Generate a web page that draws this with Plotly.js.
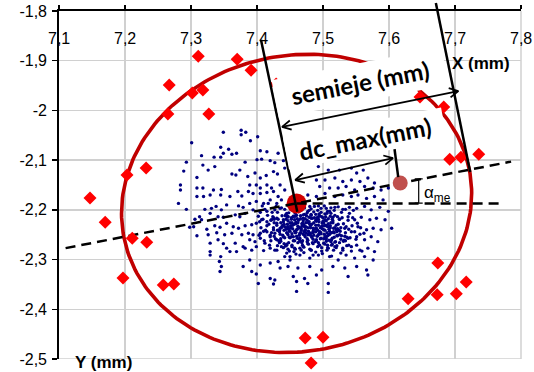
<!DOCTYPE html>
<html><head><meta charset="utf-8">
<script src="https://cdn.plot.ly/plotly-3.0.1.min.js"></script>
<style>html,body{margin:0;padding:0;background:#fff;}#chart{width:534px;height:372px;}</style>
</head><body><div id="chart"></div>
<script>
// ---- tick labels ----
const xTickVals = [7.1, 7.2, 7.3, 7.4, 7.5, 7.6, 7.7, 7.8];
const xTickText = ['7,1', '7,2', '7,3', '7,4', '7,5', '7,6', '7,7', '7,8'];
const yTickVals = [-1.8, -1.9, -2.0, -2.1, -2.2, -2.3, -2.4, -2.5];
const yTickText = ['-1,8', '-1,9', '-2', '-2,1', '-2,2', '-2,3', '-2,4', '-2,5'];

// ---- blue measurement cloud ----
const cloudX = [
7.349,7.376,7.383,7.376,7.390,7.401,7.301,7.345,7.357,7.349,7.362,7.369,7.316,7.335,7.345,7.405,7.415,7.432,7.293,7.318,
7.382,7.400,7.407,7.420,7.427,7.440,7.336,7.326,7.289,7.309,7.362,7.368,7.374,7.386,7.397,7.405,7.414,7.425,7.431,7.442,
7.284,7.284,7.309,7.318,7.334,7.346,7.371,7.389,7.399,7.405,7.415,7.422,7.435,7.309,7.319,7.329,7.345,7.359,7.377,7.387,
7.394,7.405,7.415,7.425,7.432,7.442,7.281,7.293,7.321,7.331,7.338,7.346,7.354,7.372,7.379,7.389,7.399,7.410,7.420,7.430,
7.437,7.306,7.313,7.316,7.329,7.341,7.349,7.354,7.367,7.374,7.382,7.394,7.405,7.415,7.427,7.435,7.445,7.298,7.304,7.324,
7.336,7.344,7.364,7.372,7.382,7.392,7.399,7.407,7.415,7.422,7.430,7.440,7.447,7.309,7.326,7.339,7.351,7.362,7.377,7.387,
7.394,7.405,7.415,7.425,7.435,7.442,7.329,7.341,7.349,7.354,7.367,7.379,7.389,7.397,7.405,7.412,7.420,7.430,7.440,7.447,
7.329,7.329,7.345,7.359,7.369,7.382,7.392,7.399,7.410,7.420,7.430,7.437,7.445,7.343,7.346,7.379,7.389,7.405,7.420,7.432,
7.442,7.450,7.344,7.392,7.399,7.420,7.427,7.402,7.425,7.435,
7.493,7.508,7.525,7.543,7.551,7.561,7.490,7.503,7.518,7.530,7.543,7.556,7.568,7.578,7.495,7.510,7.523,7.535,7.548,7.563,
7.576,7.588,7.599,7.477,7.490,7.503,7.518,7.530,7.543,7.553,7.566,7.578,7.591,7.452,7.467,7.480,7.493,7.505,7.518,7.530,
7.540,7.551,7.563,7.573,7.586,7.599,7.447,7.457,7.470,7.482,7.493,7.503,7.515,7.525,7.538,7.548,7.558,7.571,7.581,7.594,
7.604,7.447,7.460,7.472,7.485,7.495,7.508,7.520,7.533,7.543,7.553,7.566,7.576,7.588,7.452,7.465,7.477,7.490,7.503,7.513,
7.525,7.538,7.551,7.563,7.573,7.583,7.445,7.457,7.470,7.482,7.495,7.508,7.518,7.530,7.543,7.556,7.568,7.578,7.450,7.465,
7.480,7.493,7.510,7.523,7.535,7.548,7.563,7.576,7.447,7.462,7.480,7.498,7.515,7.533,7.551,7.566,7.455,7.472,7.490,7.538,
7.568,7.460,7.508,7.477,7.460,7.508,
7.431,7.436,7.441,7.444,7.448,7.451,7.453,7.455,7.457,7.459,7.461,7.463,7.464,7.466,7.468,7.469,7.471,7.472,7.474,7.476,
7.477,7.479,7.481,7.483,7.484,7.486,7.488,7.489,7.491,7.493,7.495,7.496,7.498,7.499,7.501,7.503,7.505,7.506,7.508,7.510,
7.512,7.514,7.516,7.518,7.521,7.523,7.526,7.529,7.532,7.535,
7.427,7.433,7.438,7.443,7.446,7.449,7.452,7.454,7.456,7.458,7.460,7.462,7.465,7.467,7.470,7.473,7.475,7.478,7.480,7.482,
7.485,7.487,7.490,7.492,7.494,7.497,7.500,7.502,7.504,7.507,7.509,7.511,7.513,7.515,7.519,7.522,7.525,7.528,7.531,7.534,
7.538,7.541,7.544,7.548,7.552,7.556,
7.439,7.445,7.450,7.455,7.461,7.466,7.471,7.476,7.481,7.486,7.491,7.496,7.501,7.506,7.511,7.517,7.522,7.527,7.533,7.539,
7.545,7.550,7.557,7.562,
7.421,7.425,7.429,7.434,7.437,7.442,7.447,7.452,7.457,7.462,7.467,7.472,7.477,7.482,7.487,7.492,7.497,7.502,7.507,7.512,
7.517,7.523,7.528,7.534,7.540,7.546,
7.441,7.447,7.453,7.459,7.465,7.471,7.478,7.485,7.492,7.499,7.506,7.513,7.520,7.527,7.536,7.543,7.551,7.559,
7.402,7.406,7.409,7.413,7.416,7.418,7.422,7.424,7.426,7.428,7.430,7.432,7.435,7.437,7.440,7.442,7.444,7.446,7.448,7.450,
7.403,7.411,7.419,7.427,7.434,7.412,7.423,7.417,7.408,7.439,
7.444,7.447,7.452,7.456,7.458,7.463,7.466,7.469,7.473,7.476,7.479,7.482,7.486,7.489,7.493,7.497,7.500,7.504,7.508,7.512,
7.445,7.449,7.454,7.459,7.462,7.467,7.470,7.474,7.478,7.481,7.485,7.490,7.494,7.498,7.503,7.507,7.511,7.516,7.520,7.524,
7.450,7.455,7.460,7.464,7.468,7.472,7.477,7.483,7.488,7.492,7.496,7.501,7.505,7.509,7.514,7.518,7.522,7.527,7.531,7.536,
7.425,7.430,7.434,7.438,7.443,7.448,7.453,7.458,7.463,7.468,7.473,7.479,7.484,7.489,7.494,7.499,7.505,7.510,7.515,7.521,
7.404,7.410,7.415,7.420,7.426,7.431,7.436,7.441,7.446,7.451,
7.455,7.459,7.462,7.466,7.470,7.474,7.478,7.482,7.486,7.490,7.494,7.498,7.502,7.506,7.510,7.514,7.518,7.457,7.461,7.465,
7.469,7.473,7.477,7.481,7.485,7.489,7.493,7.497,7.501,7.505,7.509,7.513,7.517,7.421,7.426,7.431,7.436,7.440,7.445,7.449,
7.453,7.458,7.462,7.467,7.471,7.476,7.480,7.485,7.489,7.494,7.498,7.503,7.507,7.512,7.516,7.521,7.525,7.530,7.534,7.539
];
const cloudY = [
-2.044,-2.040,-2.044,-2.049,-2.061,-2.053,-2.065,-2.074,-2.078,-2.086,-2.088,-2.086,-2.091,-2.094,-2.094,-2.081,-2.083,-2.086,-2.104,-2.110,
-2.104,-2.099,-2.098,-2.101,-2.105,-2.101,-2.113,-2.120,-2.122,-2.135,-2.128,-2.130,-2.120,-2.133,-2.126,-2.136,-2.131,-2.123,-2.128,-2.116,
-2.150,-2.160,-2.156,-2.156,-2.160,-2.159,-2.163,-2.150,-2.150,-2.156,-2.150,-2.156,-2.150,-2.173,-2.173,-2.170,-2.170,-2.173,-2.172,-2.163,
-2.167,-2.167,-2.165,-2.163,-2.173,-2.160,-2.187,-2.199,-2.199,-2.197,-2.193,-2.200,-2.190,-2.192,-2.195,-2.187,-2.183,-2.187,-2.180,-2.187,
-2.180,-2.219,-2.214,-2.220,-2.207,-2.214,-2.215,-2.227,-2.210,-2.214,-2.207,-2.200,-2.205,-2.203,-2.200,-2.197,-2.207,-2.235,-2.234,-2.239,
-2.232,-2.235,-2.234,-2.237,-2.232,-2.230,-2.227,-2.220,-2.224,-2.220,-2.217,-2.220,-2.214,-2.252,-2.250,-2.246,-2.250,-2.247,-2.250,-2.247,
-2.250,-2.247,-2.244,-2.240,-2.237,-2.234,-2.267,-2.260,-2.268,-2.277,-2.267,-2.274,-2.260,-2.264,-2.257,-2.267,-2.254,-2.260,-2.254,-2.250,
-2.284,-2.291,-2.294,-2.284,-2.284,-2.277,-2.281,-2.274,-2.282,-2.277,-2.281,-2.274,-2.287,-2.304,-2.314,-2.314,-2.301,-2.311,-2.307,-2.304,
-2.294,-2.301,-2.324,-2.324,-2.329,-2.338,-2.341,-2.348,-2.349,-2.317,
-2.113,-2.120,-2.120,-2.116,-2.126,-2.120,-2.140,-2.140,-2.136,-2.143,-2.140,-2.143,-2.136,-2.146,-2.153,-2.156,-2.156,-2.153,-2.160,-2.153,
-2.156,-2.160,-2.156,-2.170,-2.173,-2.167,-2.173,-2.170,-2.173,-2.170,-2.177,-2.173,-2.180,-2.200,-2.197,-2.193,-2.192,-2.197,-2.195,-2.199,
-2.195,-2.197,-2.193,-2.200,-2.195,-2.203,-2.214,-2.220,-2.210,-2.217,-2.214,-2.220,-2.215,-2.219,-2.214,-2.220,-2.215,-2.220,-2.217,-2.220,
-2.237,-2.234,-2.240,-2.234,-2.237,-2.244,-2.234,-2.240,-2.237,-2.244,-2.234,-2.240,-2.237,-2.240,-2.254,-2.257,-2.250,-2.260,-2.254,-2.260,
-2.250,-2.257,-2.254,-2.260,-2.254,-2.264,-2.271,-2.277,-2.274,-2.281,-2.271,-2.277,-2.274,-2.281,-2.274,-2.281,-2.277,-2.284,-2.294,-2.291,
-2.297,-2.291,-2.294,-2.301,-2.291,-2.297,-2.294,-2.301,-2.314,-2.317,-2.314,-2.321,-2.314,-2.317,-2.314,-2.321,-2.334,-2.338,-2.331,-2.334,
-2.331,-2.344,-2.348,-2.348,-2.364,-2.366,
-2.205,-2.226,-2.241,-2.219,-2.206,-2.232,-2.248,-2.213,-2.262,-2.225,-2.239,-2.204,-2.251,-2.218,-2.233,-2.271,-2.244,-2.209,-2.226,-2.258,
-2.236,-2.215,-2.247,-2.229,-2.266,-2.204,-2.238,-2.221,-2.253,-2.231,-2.212,-2.245,-2.276,-2.227,-2.240,-2.208,-2.258,-2.233,-2.218,-2.249,
-2.226,-2.269,-2.237,-2.211,-2.252,-2.229,-2.243,-2.216,-2.261,-2.234,
-2.247,-2.262,-2.212,-2.273,-2.229,-2.255,-2.219,-2.238,-2.284,-2.246,-2.211,-2.226,-2.263,-2.241,-2.222,-2.254,-2.212,-2.248,-2.229,-2.281,
-2.243,-2.216,-2.262,-2.241,-2.224,-2.257,-2.216,-2.249,-2.231,-2.271,-2.239,-2.213,-2.246,-2.222,-2.264,-2.238,-2.219,-2.252,-2.228,-2.246,
-2.221,-2.256,-2.232,-2.244,-2.227,-2.249,
-2.231,-2.246,-2.226,-2.254,-2.218,-2.246,-2.230,-2.221,-2.236,-2.251,-2.216,-2.236,-2.226,-2.246,-2.232,-2.255,-2.214,-2.236,-2.253,-2.239,
-2.216,-2.259,-2.236,-2.247,
-2.221,-2.236,-2.193,-2.241,-2.196,-2.199,-2.191,-2.197,-2.192,-2.197,-2.201,-2.196,-2.203,-2.198,-2.193,-2.201,-2.197,-2.192,-2.203,-2.196,
-2.201,-2.194,-2.205,-2.199,-2.207,-2.201,
-2.268,-2.279,-2.271,-2.289,-2.277,-2.286,-2.269,-2.291,-2.274,-2.288,-2.281,-2.293,-2.276,-2.287,-2.272,-2.283,-2.271,-2.283,
-2.213,-2.236,-2.219,-2.241,-2.211,-2.229,-2.246,-2.214,-2.226,-2.258,-2.231,-2.219,-2.249,-2.236,-2.224,-2.256,-2.239,-2.214,-2.266,-2.243,
-2.251,-2.262,-2.271,-2.281,-2.266,-2.199,-2.205,-2.187,-2.192,-2.251,
-2.209,-2.222,-2.216,-2.229,-2.207,-2.221,-2.212,-2.227,-2.218,-2.206,-2.224,-2.211,-2.226,-2.209,-2.219,-2.205,-2.223,-2.214,-2.228,-2.207,
-2.236,-2.242,-2.231,-2.245,-2.233,-2.238,-2.249,-2.234,-2.243,-2.232,-2.246,-2.237,-2.248,-2.233,-2.241,-2.252,-2.236,-2.244,-2.231,-2.241,
-2.256,-2.262,-2.253,-2.259,-2.266,-2.251,-2.261,-2.255,-2.264,-2.252,-2.258,-2.267,-2.254,-2.261,-2.257,-2.265,-2.252,-2.259,-2.263,-2.255,
-2.216,-2.227,-2.244,-2.233,-2.212,-2.239,-2.226,-2.213,-2.235,-2.228,-2.241,-2.201,-2.217,-2.231,-2.208,-2.238,-2.222,-2.203,-2.226,-2.244,
-2.224,-2.243,-2.232,-2.251,-2.219,-2.241,-2.258,-2.229,-2.247,-2.236,
-2.214,-2.228,-2.203,-2.237,-2.217,-2.246,-2.226,-2.209,-2.239,-2.223,-2.249,-2.214,-2.232,-2.207,-2.243,-2.219,-2.236,-2.243,-2.257,-2.247,
-2.262,-2.240,-2.268,-2.251,-2.259,-2.244,-2.266,-2.248,-2.258,-2.263,-2.250,-2.271,-2.246,-2.262,-2.253,-2.272,-2.263,-2.276,-2.269,-2.283,
-2.274,-2.279,-2.266,-2.281,-2.275,-2.264,-2.279,-2.268,-2.285,-2.271,-2.283,-2.269,-2.276,-2.264,-2.281,-2.272,-2.266,-2.277,-2.262,-2.271
];

// ---- red diamonds ----
const diamondX = [7.311,7.370,7.391,7.267,7.302,7.318,7.265,7.327,7.232,7.203,7.147,7.170,7.211,7.233,7.197,7.258,
                  7.274,7.674,7.717,7.673,7.702,7.629,7.473,7.500,7.482,7.647,7.683,7.692,7.709,7.736,7.429];
const diamondY = [-1.891,-1.897,-1.919,-1.949,-1.965,-1.959,-2.007,-2.007,-2.116,-2.130,-2.176,-2.225,-2.257,-2.265,-2.337,-2.351,
                  -2.349,-2.307,-2.345,-2.371,-2.369,-2.379,-2.458,-2.456,-2.508,-1.973,-1.993,-2.098,-2.094,-2.088,-1.947];

// ---- centre and dc_max point ----
const centerX = [7.460], centerY = [-2.187];
const dcPointX = [7.617], dcPointY = [-2.146];

// ---- ellipse parameters (centre, semi-major and semi-minor vectors in data units) ----
const ellipseCenter = [7.460, -2.187];
const ellipseMajor = [0.2618, 0.0674];
const ellipseMinor = [-0.0427, 0.2923];

// ---- dashed guide lines ----
const axisLineX = [7.110, 7.785], axisLineY = [-2.277, -2.103];
const horizLineX = [7.460, 7.771], horizLineY = [-2.187, -2.187];

// ---- black construction lines / arrows: [x0, y0, x1, y1] ----
const leftLine = [7.406, -1.858, 7.461, -2.204];
const rightLine = [7.671, -1.784, 7.723, -2.124];
const semiejeArrow = [7.438, -2.033, 7.705, -1.961];
const dcMaxArrow = [7.458, -2.140, 7.606, -2.096];
const dcTick = [7.608, -2.074, 7.614, -2.134];
const alphaBarX = [7.645], alphaBarY = [-2.162], alphaBarHalf = [0.0245];

// build ellipse outline from its parameters
const ellipseX = [], ellipseY = [];
for (let i = 0; i <= 240; i++) {
  const t = 2 * Math.PI * i / 240;
  ellipseX.push(ellipseCenter[0] + ellipseMajor[0] * Math.cos(t) + ellipseMinor[0] * Math.sin(t));
  ellipseY.push(ellipseCenter[1] + ellipseMajor[1] * Math.cos(t) + ellipseMinor[1] * Math.sin(t));
}

function segTrace(s, w) {
  return {x: [s[0], s[2]], y: [s[1], s[3]], xaxis: 'x2', yaxis: 'y2', type: 'scatter', mode: 'lines',
          line: {color: '#000', width: w}, hoverinfo: 'skip'};
}

// double-headed arrow: shaft plus an open "V" head at each end (head size in screen pixels)
const pxPerUnitX = 462 / 0.7, pxPerUnitY = 348 / 0.7;
function arrowTraces(s) {
  const out = [segTrace(s, 1.8)];
  const ends = [[s[2], s[3], s[0], s[1]], [s[0], s[1], s[2], s[3]]];
  ends.forEach(function (e) {
    let dx = (e[0] - e[2]) * pxPerUnitX, dy = (e[1] - e[3]) * pxPerUnitY;
    const n = Math.hypot(dx, dy); dx /= n; dy /= n;
    const L = 10, th = 28 * Math.PI / 180;
    const wing = function (sg) {
      const c = Math.cos(th), sn = Math.sin(sg * th), bx = -dx, by = -dy;
      return [e[0] + L * (bx * c - by * sn) / pxPerUnitX, e[1] + L * (bx * sn + by * c) / pxPerUnitY];
    };
    const w1 = wing(1), w2 = wing(-1);
    out.push({x: [w1[0], e[0], w2[0]], y: [w1[1], e[1], w2[1]], xaxis: 'x2', yaxis: 'y2', type: 'scatter',
              mode: 'lines', line: {color: '#000', width: 1.8}, hoverinfo: 'skip'});
  });
  return out;
}

const traces = [
  {x: cloudX, y: cloudY, type: 'scatter', mode: 'markers', marker: {color: '#000080', size: 3.4}, hoverinfo: 'skip'},
  {x: ellipseX, y: ellipseY, type: 'scatter', mode: 'lines', line: {color: '#c00000', width: 3.6}, hoverinfo: 'skip'},
  {x: centerX, y: centerY, type: 'scatter', mode: 'markers', marker: {color: '#d00000', size: 20}, hoverinfo: 'skip'},
  {x: axisLineX, y: axisLineY, type: 'scatter', mode: 'lines', line: {color: '#000', width: 2.5, dash: '10px,6px'}, hoverinfo: 'skip'},
  {x: horizLineX, y: horizLineY, type: 'scatter', mode: 'lines', line: {color: '#000', width: 2.5, dash: '10px,6px'}, hoverinfo: 'skip'},
  {x: dcPointX, y: dcPointY, type: 'scatter', mode: 'markers', marker: {color: '#c0504d', size: 15}, hoverinfo: 'skip'},
  {x: alphaBarX, y: alphaBarY, type: 'scatter', mode: 'markers', marker: {opacity: 0},
   error_y: {type: 'data', array: alphaBarHalf, visible: true, color: '#000', thickness: 1.2, width: 4}, hoverinfo: 'skip'},
  // overlay subplot with the same scale, extended to the whole canvas height
  {x: diamondX, y: diamondY, xaxis: 'x2', yaxis: 'y2', type: 'scatter', mode: 'markers',
   marker: {color: '#ff0000', symbol: 'diamond', size: 10}, hoverinfo: 'skip'},
  segTrace(leftLine, 2.5),
  segTrace(rightLine, 2.5),
  segTrace(dcTick, 2.5)
].concat(arrowTraces(semiejeArrow), arrowTraces(dcMaxArrow));

const annotations = [
  {x: 7.556, y: -1.943, xref: 'x', yref: 'y', text: '<b>semieje (mm)</b>', showarrow: false, textangle: -11,
   font: {family: 'Lato', size: 24, color: '#000'}, bgcolor: '#ffffff', width: 172, height: 37, borderpad: 0},
  {x: 7.564, y: -2.056, xref: 'x', yref: 'y', text: '<b>dc_max(mm)</b>', showarrow: false, textangle: -11,
   font: {family: 'Lato', size: 24, color: '#000'}, bgcolor: '#ffffff', width: 160, height: 31, borderpad: 0},
  {x: 7.739, y: -1.905, xref: 'x', yref: 'y', text: '<b>X (mm)</b>', showarrow: false,
   font: {family: 'Liberation Sans', size: 17, color: '#000'}},
  {x: 7.167, y: -2.5, yshift: -3, xref: 'x', yref: 'y', text: '<b>Y (mm)</b>', showarrow: false,
   font: {family: 'Liberation Sans', size: 17, color: '#000'}},
  {x: 7.674, y: -2.168, xref: 'x', yref: 'y', text: 'α<sub>me</sub>', showarrow: false,
   font: {family: 'Liberation Sans', size: 17, color: '#000'}}
];
// x tick labels sit inside the plot, below the top axis line
xTickVals.forEach(function (v, i) {
  annotations.push({x: v, y: -1.8, xref: 'x', yref: 'y', yshift: -27.5, yanchor: 'middle', xanchor: 'center',
    text: xTickText[i], showarrow: false, font: {family: 'Liberation Sans', size: 16, color: '#000'}});
});

const layout = {
  width: 534, height: 372,
  margin: {l: 59, r: 13, t: 0, b: 0, pad: 0},
  paper_bgcolor: '#ffffff', plot_bgcolor: 'rgba(0,0,0,0)',
  showlegend: false,
  font: {family: 'Liberation Sans', size: 16, color: '#000'},
  xaxis: {
    range: [7.1, 7.8], side: 'top', anchor: 'y', tickmode: 'array', tickvals: xTickVals, ticktext: xTickText,
    ticks: 'outside', ticklen: 4, tickwidth: 1.5, tickcolor: '#000', showticklabels: false,
    showline: true, linecolor: '#000', linewidth: 1.8,
    showgrid: true, gridcolor: '#d0d0d0', gridwidth: 1.5, zeroline: false
  },
  yaxis: {
    range: [-2.5, -1.8], domain: [13 / 372, 361 / 372], anchor: 'x',
    tickmode: 'array', tickvals: yTickVals, ticktext: yTickText,
    ticks: 'outside', ticklen: 5, tickwidth: 1.5, tickcolor: '#000', ticklabelstandoff: 2,
    showline: true, linecolor: '#000', linewidth: 1.8,
    showgrid: true, gridcolor: '#d0d0d0', gridwidth: 1.5, zeroline: false,
    tickfont: {family: 'Liberation Sans', size: 16, color: '#000'}
  },
  xaxis2: {range: [7.1, 7.8], domain: [0, 1], anchor: 'y2', visible: false},
  yaxis2: {range: [-2.5 - 13 / pxPerUnitY, -1.8 + 11 / pxPerUnitY], domain: [0, 1], anchor: 'x2', visible: false},
  shapes: [
    {type: 'line', xref: 'paper', yref: 'y', x0: 1, x1: 1, y0: -2.5, y1: -1.8, layer: 'below', line: {color: '#d0d0d0', width: 1.5}},
    {type: 'line', xref: 'paper', yref: 'y', x0: 0, x1: 1, y0: -2.5, y1: -2.5, layer: 'below', line: {color: '#d0d0d0', width: 1.5}}
  ],
  annotations: annotations
};

Plotly.newPlot('chart', traces, layout, {displayModeBar: false, staticPlot: true});
</script>
</body></html>
